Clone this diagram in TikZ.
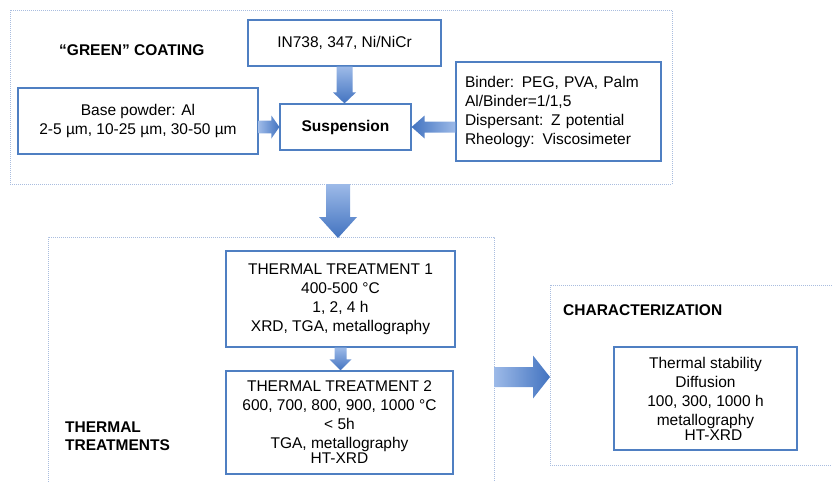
\documentclass[tikz,border=0pt]{standalone}
\usepackage{fontspec}
\setmainfont{Liberation Sans}
\usetikzlibrary{calc}
\definecolor{boxblue}{HTML}{4F7FC2}
\definecolor{dotblue}{HTML}{A9BDDF}
\definecolor{arrlight}{HTML}{9DBAE8}
\definecolor{arrdark}{HTML}{4273C0}
% vertical block arrow: from, to, shaft half width, head half width, head length
\newcommand{\dnblock}[5]{\path[varrow] let \p1=(#1), \p2=(#2) in
  ({\x1-#3},\y1) -- ({\x1+#3},\y1) -- ({\x1+#3},{\y2+#5}) -- ({\x1+#4},{\y2+#5}) --
  (\x1,\y2) -- ({\x1-#4},{\y2+#5}) -- ({\x1-#3},{\y2+#5}) -- cycle;}
\newcommand{\rtblock}[5]{\path[rarrow] let \p1=(#1), \p2=(#2) in
  (\x1,{\y2+#3}) -- ({\x2-#5},{\y2+#3}) -- ({\x2-#5},{\y2+#4}) -- (\x2,\y2) --
  ({\x2-#5},{\y2-#4}) -- ({\x2-#5},{\y2-#3}) -- (\x1,{\y2-#3}) -- cycle;}
\newcommand{\ltblock}[5]{\path[larrow] let \p1=(#1), \p2=(#2) in
  (\x1,{\y2+#3}) -- ({\x2+#5},{\y2+#3}) -- ({\x2+#5},{\y2+#4}) -- (\x2,\y2) --
  ({\x2+#5},{\y2-#4}) -- ({\x2+#5},{\y2-#3}) -- (\x1,{\y2-#3}) -- cycle;}
\begin{document}
\begin{tikzpicture}[x=1pt,y=-1pt,
  container/.style={draw=dotblue, line width=1pt, dash pattern=on 1pt off 1pt},
  box/.style={draw=boxblue, line width=1.2pt, fill=white, inner sep=0pt, align=center,
    font=\fontsize{15.5}{19}\selectfont},
  label/.style={font=\fontsize{15.5}{18}\selectfont\bfseries, inner sep=0pt, align=left},
  varrow/.style={top color=arrlight, bottom color=arrdark, draw=none},
  rarrow/.style={left color=arrlight, right color=arrdark, draw=none},
  larrow/.style={right color=arrlight, left color=arrdark, draw=none}]
\useasboundingbox (0,0) rectangle (832,482);

% containers
\node[container, minimum width=662, minimum height=174, inner sep=0pt] (green) at (341,97) {};
\draw[container] (48,482) -- (48,237) -- (494,237) -- (494,482);
\draw[container] (832,285) -- (550,285) -- (550,465) -- (832,465);
\coordinate (gbot) at (338,184);
\coordinate (thtop) at (338,238);
\coordinate (thright) at (494,377);
\coordinate (chleft) at (550,377);

% labels
\node[label, anchor=west] (greenlbl) at (59,50) {“GREEN” COATING};
\node[label, anchor=west] (thlbl) at (65,436) {THERMAL\\TREATMENTS};
\node[label, anchor=west] (chlbl) at (563,310) {CHARACTERIZATION};

% boxes
\node[box, minimum width=193, minimum height=46] (in) at (344.5,43) {IN738,  347,  Ni/NiCr};
\node[box, minimum width=240, minimum height=66] (base) at (138,121)
  {Base powder:  Al\\2-5 µm, 10-25 µm, 30-50 µm};
\node[box, minimum width=131, minimum height=46, font=\fontsize{15.5}{19}\selectfont\bfseries] (susp) at (345.5,127) {Suspension};
\node[box, text width=187, inner xsep=9pt, minimum height=99, align=left] (binder) at (558.5,111.5)
  {Binder:  PEG, PVA,  Palm\\Al/Binder=1/1,5\\Dispersant:  Z potential\\Rheology:  Viscosimeter};
\node[box, minimum width=229, minimum height=96] (tt1) at (340.5,299)
  {THERMAL TREATMENT 1\\400-500  °C\\1, 2, 4  h\\XRD, TGA, metallography};
\node[box, minimum width=227, minimum height=103] (tt2) at (339.5,422.5)
  {THERMAL TREATMENT 2\\600, 700, 800, 900, 1000  °C\\< 5h\\TGA, metallography\\[-4pt]HT-XRD};
\node[box, minimum width=183, minimum height=103] (ch) at (705.5,398.5)
  {Thermal  stability\\Diffusion\\100,  300,  1000 h\\metallography\\[-4pt]\hspace*{16pt}HT-XRD};

% block arrows
\dnblock{in.south}{susp.north}{8pt}{11.5pt}{11pt}
\rtblock{base.east}{susp.west}{6.3pt}{11.5pt}{8pt}
\ltblock{binder.west}{susp.west -| susp.east}{5.5pt}{11.5pt}{13pt}
\dnblock{gbot}{thtop}{12pt}{19pt}{21pt}
\dnblock{tt1.south}{tt2.north}{6pt}{11pt}{11pt}
\rtblock{thright}{chleft}{10pt}{21.5pt}{17pt}
\end{tikzpicture}
\end{document}
